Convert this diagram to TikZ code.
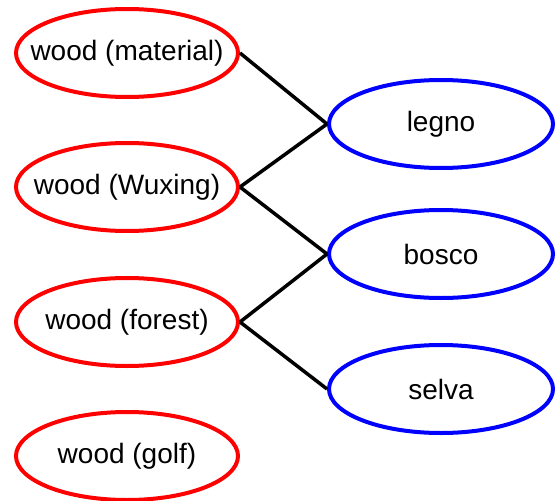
\documentclass[tikz,border=0pt]{standalone}
\usepackage{fontspec}
\setmainfont{Liberation Sans}
\usetikzlibrary{shapes.geometric}
\begin{document}
\begin{tikzpicture}[x=1pt,y=-1pt,
  base/.style={ellipse,line width=4pt,inner sep=0pt,minimum height=88pt,
    label={[font=\fontsize{28}{32}\selectfont,inner sep=0pt]center:#1}},
  en/.style={base=#1,draw=red,minimum width=222pt},
  it/.style={base=#1,draw=blue,minimum width=224pt},
  link/.style={black,line width=3.5pt}]
\useasboundingbox (0,0) rectangle (556,500);
\node[en={wood (material)}] (material) at (127,53) {};
\node[en={wood (Wuxing)}] (wuxing) at (127,187) {};
\node[en={wood (forest)}] (forest) at (127,322) {};
\node[en={wood (golf)}] (golf) at (127,456) {};
\node[it={legno}] (legno) at (441,124) {};
\node[it={bosco}] (bosco) at (441,254) {};
\node[it={selva}] (selva) at (441,389) {};
\draw[link] (material.east) -- (legno.west);
\draw[link] (wuxing.east) -- (legno.west);
\draw[link] (wuxing.east) -- (bosco.west);
\draw[link] (forest.east) -- (bosco.west);
\draw[link] (forest.east) -- (selva.west);
\end{tikzpicture}
\end{document}
